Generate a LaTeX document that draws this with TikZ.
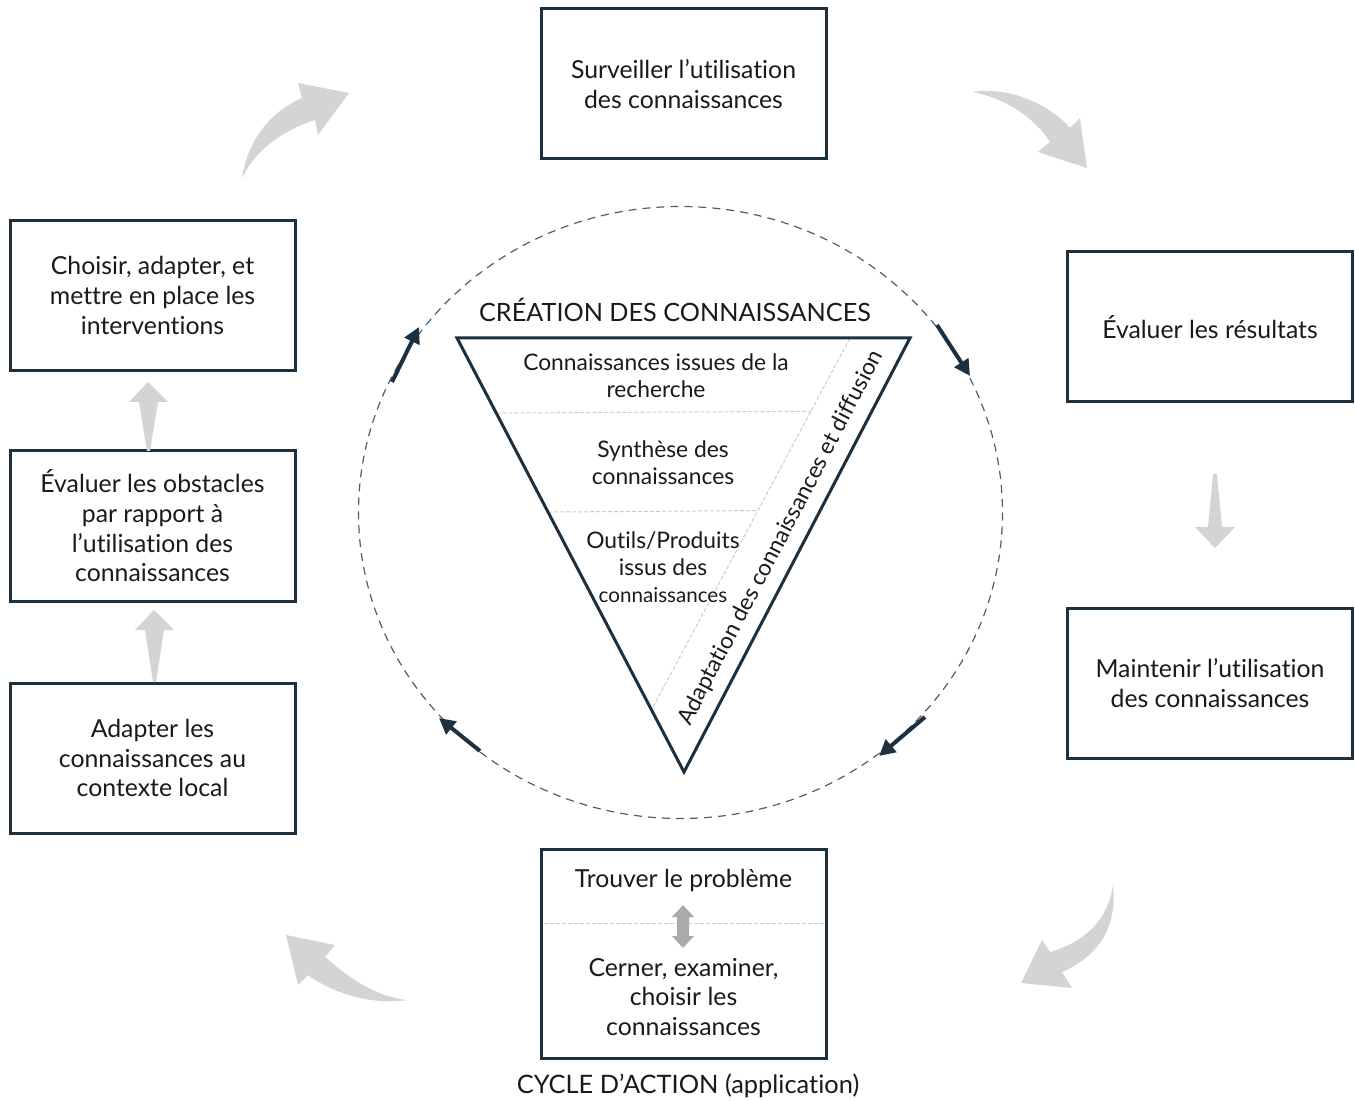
\documentclass[tikz,border=0pt]{standalone}
\usepackage{fontspec}
\setmainfont{Lato}[Ligatures=CommonOff]
\usetikzlibrary{arrows.meta,calc}
\definecolor{navy}{RGB}{28,48,64}
\definecolor{circ}{RGB}{80,95,108}
\definecolor{agray}{RGB}{212,212,212}
\definecolor{dgray}{RGB}{170,170,170}
\definecolor{sepgray}{RGB}{205,205,205}
\definecolor{txt}{RGB}{26,26,26}
\begin{document}
\begin{tikzpicture}[x=0.5pt,y=-0.5pt,
  box/.style={draw=navy, line width=1.5pt, minimum width=142.5pt, minimum height=75pt, align=center, text=txt, inner sep=0pt, font=\fontsize{12.4}{14.8}\selectfont},
  boxtext/.style={align=center, text=txt, inner sep=0pt, font=\fontsize{12.4}{14.8}\selectfont},
  tritext/.style={align=center, text=txt, inner sep=0pt, font=\fontsize{11.4}{13.5}\selectfont},
  smallarrow/.style={draw=navy, line width=2pt, -{Triangle[length=8pt,width=8pt]}},
  bigarrow/.style={fill=agray, draw=none},
  sepline/.style={draw=sepgray, line width=0.5pt, dash pattern=on 2pt off 1pt}
]
\useasboundingbox (0,0) rectangle (1355,1101);
\fill[white] (0,0) rectangle (1355,1101);

% boxes
\node[box] (surv) at (683.5,84) {Surveiller l’utilisation\\des connaissances};
\node[box] (eval) at (1210,327) {Évaluer les résultats};
\node[box] (maint) at (1210,683) {Maintenir l’utilisation\\des connaissances};
\node[box, minimum height=104.5pt] (prob) at (683.5,953.5) {};
\node[box] (adapt) at (152.5,758) {Adapter les\\connaissances au\\contexte local};
\node[box] (obst) at (152.5,526) {Évaluer les obstacles\\par rapport à\\l’utilisation des\\connaissances};
\node[box] (choisir) at (152.5,295.5) {Choisir, adapter, et\\mettre en place les\\interventions};

% bottom box content
\node[boxtext] (trouver) at (683.5,880) {Trouver le problème};
\node[boxtext] (cerner) at (683.5,997) {Cerner, examiner,\\choisir les\\connaissances};
\draw[sepline] ($(prob.west)+(4,-30)$) coordinate (s1) -- ($(prob.east)+(-4,-30)$) coordinate (s2);
\fill[dgray] (683,905) -- (694,917) -- (689,917) -- (689,936) -- (694,936) -- (683,948) -- (672,936) -- (677,936) -- (677,917) -- (672,917) -- cycle;

\node[text=txt, inner sep=0pt, font=\fontsize{12.7}{15}\selectfont] (caption) at (688,1086) {CYCLE D’ACTION (application)};

% circle
\coordinate (cc) at (680.5,512.5);
\draw[circ, line width=0.6pt, dash pattern=on 4pt off 3pt] (cc) ellipse [x radius=322, y radius=306];

% triangle
\coordinate (A) at (457,338);
\coordinate (B) at (910,338);
\coordinate (C) at (684,772);
\coordinate (D1) at (850,338);
\coordinate (D2) at ($(A)!0.857!(C)$);
\draw[sepline] (D1) -- (D2);
\draw[sepline] ($(A)!0.173!(C)$) -- ($(D1)!0.197!(D2)$);
\draw[sepline] ($(A)!0.401!(C)$) -- ($(D1)!0.464!(D2)$);
\draw[navy, line width=1.5pt, line join=miter] (A) -- (B) -- (C) -- cycle;

\node[text=txt, inner sep=0pt, font=\fontsize{12.6}{14}\selectfont] (creation) at (675,310) {CRÉATION DES CONNAISSANCES};
\node[tritext] (t1) at (656,376) {Connaissances issues de la\\recherche};
\node[tritext] (t2) at (663,463) {Synthèse des\\connaissances};
\node[tritext] (t3) at (663,567) {Outils/Produits\\issus des\\{\fontsize{10.3}{13.5}\selectfont connaissances}};
\node[tritext, rotate=62.5, font=\fontsize{11.4}{13}\selectfont] (diff) at (781,538) {Adaptation des connaissances et diffusion};

% small navy arrows on the circle
\coordinate (a1s) at (392,382); \coordinate (a1e) at (419,327);
\coordinate (a2s) at (937,325); \coordinate (a2e) at (970,376);
\coordinate (a3s) at (480,751); \coordinate (a3e) at (439,718);
\coordinate (a4s) at (925,717); \coordinate (a4e) at (879,756);
\draw[smallarrow] (a1s) -- (a1e);
\draw[smallarrow] (a2s) -- (a2e);
\draw[smallarrow] (a3s) -- (a3e);
\draw[smallarrow] (a4s) -- (a4e);

% big curved gray arrows
\fill[bigarrow] (242,178) .. controls (248,140) and (270,112) .. (302,98) -- (298,83) -- (349,93) -- (318,135) -- (315,120) .. controls (290,128) and (258,145) .. (242,178) -- cycle;
\fill[bigarrow] (972,92) .. controls (1010,86) and (1050,105) .. (1070,128) -- (1080,118) -- (1087,168) -- (1038,152) -- (1050,142) .. controls (1035,118) and (1005,98) .. (972,92) -- cycle;
\fill[bigarrow] (1113,885) .. controls (1108,920) and (1085,942) .. (1050,952) -- (1042,940) -- (1021,983) -- (1072,988) -- (1062,972) .. controls (1095,958) and (1118,930) .. (1113,885) -- cycle;
\fill[bigarrow] (407,1000) .. controls (375,997) and (345,975) .. (325,957) -- (335,945) -- (286,935) -- (298,985) -- (308,975) .. controls (335,995) and (375,1005) .. (407,1000) -- cycle;

% straight gray arrows
\fill[bigarrow] (1213,474) -- (1217,474) -- (1222,527) -- (1235,527) -- (1215,548) -- (1195,527) -- (1208,527) -- cycle;
\fill[bigarrow] (147,451) -- (150,451) -- (158,402) -- (168,402) -- (148,382) -- (129,402) -- (139,402) -- cycle;
\fill[bigarrow] (153,682) -- (156,682) -- (164,630) -- (174,630) -- (154,610) -- (135,630) -- (145,630) -- cycle;
\end{tikzpicture}
\end{document}
